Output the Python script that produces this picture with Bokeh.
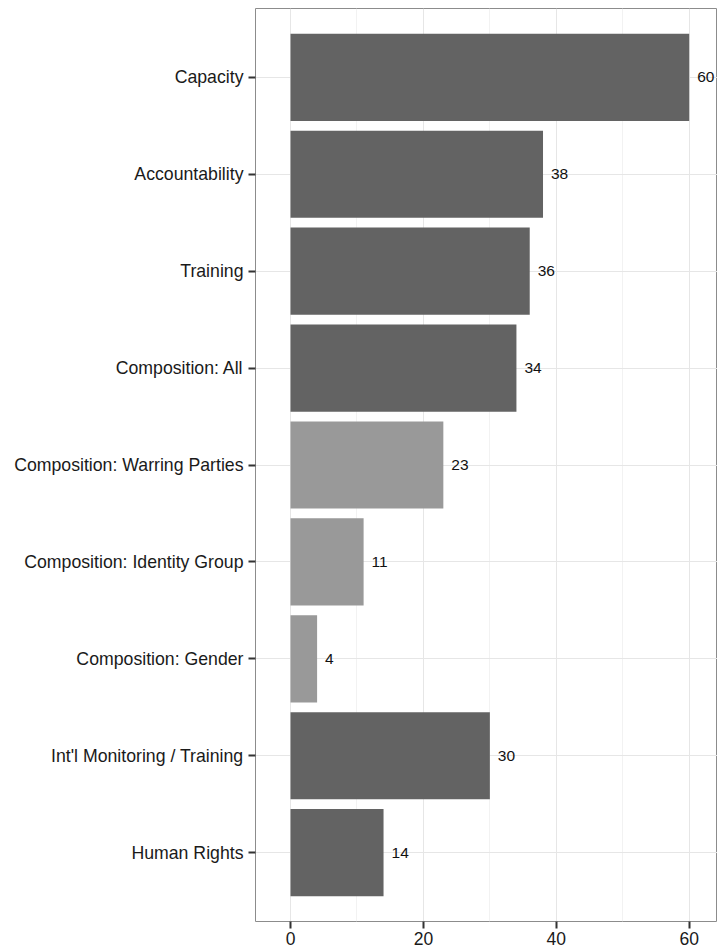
from bokeh.plotting import figure
from bokeh.models import ColumnDataSource, FactorRange, Range1d, FixedTicker, LabelSet
from bokeh.core.properties import value
from bokeh.embed import file_html
from bokeh.resources import INLINE

categories = ["Capacity", "Accountability", "Training", "Composition: All",
              "Composition: Warring Parties", "Composition: Identity Group",
              "Composition: Gender", "Int'l Monitoring / Training", "Human Rights"]
counts = [60, 38, 36, 34, 23, 11, 4, 30, 14]
shade = ["dark", "dark", "dark", "dark", "light", "light", "light", "dark", "dark"]
x_ticks = [0, 20, 40, 60]
x_minor = [10, 30, 50]

palette = {"dark": "#636363", "light": "#999999"}
src = ColumnDataSource(dict(cat=categories, n=counts,
                            color=[palette[s] for s in shade],
                            lab=[str(c) for c in counts]))

FONT = "Liberation Sans"
p = figure(width=717, height=951,
           y_range=FactorRange(factors=categories[::-1], range_padding=0.0467),
           x_range=Range1d(-5.27, 64.26),
           output_backend="svg", toolbar_location=None,
           min_border_left=255, min_border_right=0, min_border_top=8, min_border_bottom=30)

p.hbar(y="cat", left=0, right="n", height=0.9, fill_color="color", line_color=None, source=src)
p.add_layout(LabelSet(x="n", y="cat", text="lab", source=src, x_offset=8,
                      text_baseline="middle", text_align="left",
                      text_font=value(FONT), text_font_size="15.5px", text_color="#111111"))

p.xaxis.ticker = FixedTicker(ticks=x_ticks)
p.xgrid.ticker = FixedTicker(ticks=x_ticks, minor_ticks=x_minor)
p.xgrid.grid_line_color = "#e6e6e6"
p.xgrid.minor_grid_line_color = "#f2f2f2"
p.ygrid.grid_line_color = "#e6e6e6"

for ax in (p.xaxis, p.yaxis):
    ax.axis_line_color = None
    ax.major_tick_in = 0
    ax.major_tick_out = 7
    ax.major_tick_line_width = 2
    ax.major_tick_line_color = "#333333"
    ax.minor_tick_line_color = None
    ax.major_label_text_font = FONT
    ax.major_label_text_color = "#1a1a1a"
p.xaxis.major_label_text_font_size = "17.5px"
p.yaxis.major_label_text_font_size = "17.7px"
p.xaxis.major_label_standoff = 3
p.yaxis.major_label_standoff = 5

p.outline_line_color = "#8c8c8c"
p.outline_line_width = 1
p.background_fill_color = "white"
p.border_fill_color = "white"

open("out.html", "w").write(file_html(p, INLINE))
